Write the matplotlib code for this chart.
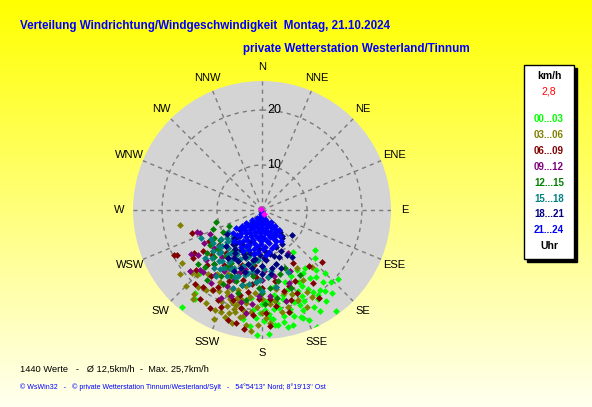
import numpy as np
import matplotlib.pyplot as plt
from matplotlib.patches import Rectangle

plt.rcParams['font.family'] = ['Liberation Sans', 'DejaVu Sans']

W, H = 592, 407

directions = ['N', 'NNE', 'NE', 'ENE', 'E', 'ESE', 'SE', 'SSE',
              'S', 'SSW', 'SW', 'WSW', 'W', 'WNW', 'NW', 'NNW']
rings = [10, 20]
r_min, r_max = 1.8, 25.3

hours = ['00...03', '03...06', '06...09', '09...12',
         '12...15', '15...18', '18...21', '21...24']
colors = ['#00ff00', '#808000', '#800000', '#800080',
          '#008000', '#008080', '#000080', '#0000ff']

# (direction deg, speed km/h), one list per 3 hours
pts_00 = [(219.5, 24.7), (127, 13.9), (132, 14.8), (132, 20.5), (144, 24.6), (155, 25.3),
          (159, 22.8), (167.5, 23.6), (173.5, 22.9), (182.3, 24.6), (143.6, 11.3), (224.5, 17.9),
          (219, 21.2), (217, 22), (144, 19.8), (142, 20.5), (141, 17.5), (143.4, 14.9),
          (146.6, 20.3), (164.6, 21.1), (175.8, 21.5), (160, 18), (165, 19), (170, 20),
          (175, 18.5), (158, 20.5), (168, 21.5), (178, 20), (162, 17), (172, 17.5), (155, 19),
          (180, 19), (163, 22), (150, 18.5), (185, 20), (153, 16.5), (145, 17), (148, 21),
          (172, 23), (187, 18), (157, 23.5), (140, 19), (135, 18), (190, 22), (150, 23),
          (177, 24.5), (152, 17.5), (156, 18), (161, 19.5), (166, 17.8), (171, 19),
          (176, 20.8), (181, 20.5), (158, 21.5), (164, 20.5), (169, 22.5), (174, 21.8),
          (179, 22), (155, 20), (160, 22.5), (167, 18.5), (173, 20), (148, 19.5), (152, 21.8),
          (145, 22), (138, 16.5), (147, 15.5), (150, 14.5), (183, 21.5), (186, 23), (165, 23.5),
          (178, 18.3), (171, 16), (156, 15), (162, 15.5), (140, 21.5), (136, 20)]
pts_03 = [(259.6, 17), (236.5, 19.3), (232, 20.7), (225, 21.4), (219, 21.5), (218, 22.3),
          (202, 21.9), (195, 23.1), (191.6, 21.7), (182, 22.7), (149.6, 16.6), (151, 18.8),
          (202, 18.5), (193, 18.5), (198, 19.5), (200, 20.5), (195, 21), (190, 19), (203, 18),
          (197, 17), (149, 14.1), (139, 15.6), (169, 20.7), (175, 19), (165, 20), (185, 17),
          (210, 17), (215, 19.5), (205, 22), (188, 23), (178, 21.5), (160, 18), (170, 16.5),
          (208, 15), (220, 17), (228, 19), (199, 22.5), (186, 20.5), (192, 16), (155, 21.3),
          (180, 18), (190, 20.5), (196, 18.5), (204, 20), (212, 19), (183, 19.5), (172, 18.5),
          (165, 17.5), (176, 22.5), (185, 24), (204, 23.5), (211, 21.5), (220, 20),
          (195, 19.8), (201, 17.2), (188, 17.8), (180, 20.5), (158, 19.5), (150, 20),
          (208, 18.5), (215, 16), (225, 18.5), (192, 20), (196, 20.5), (194, 19), (198, 21.5),
          (190, 21.5), (200, 19)]
pts_06 = [(252, 15.2), (242, 19.3), (235, 17.1), (235, 14.9), (231, 11.9), (131, 16.3),
          (147, 20.9), (188.5, 23.8), (197, 22.7), (211.5, 18.9), (217.5, 19.5), (206, 20),
          (157, 18.2), (194.5, 17.8), (160.5, 16.4), (185, 14), (195, 15), (205, 16), (215, 14),
          (225, 16), (200, 12.5), (190, 17), (210, 18), (180, 16), (220, 12), (230, 13.5),
          (175, 18), (198, 19), (170, 15), (188, 12), (212, 11), (165, 17), (203, 21),
          (243, 19.8), (228, 14), (178, 20.5), (150, 13), (140, 15), (182, 18), (192, 20),
          (208, 22), (218, 17), (228, 18), (238, 16.5), (185, 21), (196, 13.5), (172, 19.5),
          (162, 19), (155, 16), (176, 23), (188, 15.5), (215, 21.5), (200, 14), (222, 20),
          (165, 21), (145, 18), (193, 23), (240, 13)]
pts_09 = [(251, 14.3), (245, 12.2), (189, 20.8), (224, 17.4), (209, 13.7), (149, 10.9),
          (190, 12), (200, 14), (212, 15), (220, 13), (228, 15.5), (235, 16), (195, 16),
          (205, 17), (215, 18), (185, 15), (178, 13), (198, 11), (210, 11.5), (222, 11),
          (240, 14), (230, 19), (193, 19), (182, 17.5), (170, 16), (165, 19), (155, 14),
          (250, 13.8), (188, 13.5), (202, 15.5), (216, 16.5), (226, 17.5), (238, 17),
          (196, 13), (210, 14), (180, 14.5), (175, 17.5), (186, 19), (200, 18.5), (222, 15),
          (232, 13), (170, 14), (160, 16), (205, 19.5), (214, 12.5)]
pts_12 = [(255, 10.5), (249, 11.4), (241, 10), (236, 13.2), (234, 11.2), (158, 13.1),
          (167, 15.1), (190, 12), (200, 13), (212, 14), (222, 15), (228, 12.5), (195, 16),
          (208, 17), (218, 18), (185, 15), (180, 17), (175, 14), (200, 10), (215, 11),
          (225, 16.5), (170, 18), (205, 15), (190, 18.5), (160, 17), (150, 15.5), (232, 14.5),
          (245, 8.5), (195, 12), (205, 12), (218, 12.5), (188, 14), (200, 15.5), (212, 16),
          (226, 14), (182, 16), (196, 17.5), (178, 19), (230, 17), (240, 12), (210, 13),
          (186, 11), (164, 14), (174, 16)]
pts_15 = [(223, 5.3), (237, 9.2), (230, 15.4), (200, 9), (215, 9), (228, 9), (190, 10),
          (205, 10), (218, 10), (232, 10), (185, 11), (198, 11), (210, 11), (222, 11),
          (235, 11), (180, 12), (193, 12), (206, 12), (218, 12), (230, 12), (188, 13),
          (200, 13), (212, 13), (225, 13), (175, 14), (195, 14), (208, 14), (220, 14),
          (185, 15), (202, 15), (215, 15), (170, 16), (195, 16), (157, 14), (165, 12),
          (240, 12.5), (245, 14), (203, 9.5), (225, 9.5), (196, 10.5), (212, 10.5),
          (228, 10.5), (190, 11.5), (204, 11.5), (216, 11.5), (228, 11.5), (199, 12.5),
          (212, 12.5), (224, 12.5), (236, 12.5), (193, 13.5), (206, 13.5), (218, 13.5),
          (230, 13.5), (182, 14.5), (200, 14.5), (213, 14.5), (226, 14.5), (190, 15.5),
          (208, 15.5), (220, 15.5), (180, 16.5), (200, 17), (215, 16.5), (178, 12.5), (172, 13)]
pts_18 = [(140, 7), (230, 7.2), (145, 8), (143, 7.8), (200, 8), (150, 9), (160, 9), (185, 9),
          (210, 9), (225, 9), (155, 10), (170, 10), (182, 10), (195, 10), (208, 10), (220, 10),
          (160, 11), (175, 11), (190, 11), (200, 11), (212, 11), (151, 11.2), (165, 12),
          (180, 12), (195, 12), (205, 12), (185, 13), (200, 13), (172, 13.5), (215, 12.5),
          (235, 9.5), (130, 9), (226, 6.6), (222, 8.5), (165, 10.5), (178, 10.5), (188, 10.8),
          (202, 10.5), (215, 10.5), (170, 12.5), (190, 12.5), (210, 12), (180, 13.5),
          (195, 13.5), (162, 13), (205, 14), (225, 11), (148, 12), (175, 9.5), (218, 9.5)]
pts_21 = [(180, 2.2), (170, 3), (185, 3), (195, 3.2), (160, 4), (175, 4), (190, 4), (205, 4.2),
          (150, 5), (165, 5), (180, 5), (195, 5), (210, 5), (220, 5.3), (145, 6), (160, 6),
          (172, 6), (185, 6), (198, 6), (212, 6), (225, 6.2), (150, 7), (163, 7), (176, 7),
          (189, 7), (202, 7), (215, 7), (228, 7), (155, 8), (168, 8), (181, 8), (194, 8),
          (207, 8), (220, 8), (225, 8.3), (165, 9), (178, 9), (191, 9), (204, 9), (215, 9),
          (175, 10), (190, 10), (205, 10), (170, 7.5), (183, 6.5), (196, 7.5), (208, 6.5),
          (158, 6.8), (188, 5.5), (200, 8.5), (176, 8.5), (175, 2.5), (190, 2.5), (160, 3.5),
          (178, 3.5), (200, 3.5), (210, 3.5), (145, 4.5), (155, 4.5), (168, 4.5), (182, 4.5),
          (198, 4.5), (215, 4.5), (225, 4.5), (140, 5.5), (152, 5.5), (170, 5.5), (176, 5.5),
          (205, 5.5), (218, 5.5), (230, 5.5), (140, 6.5), (150, 6.5), (165, 6.5), (195, 6.5),
          (220, 6.5), (232, 6.5), (145, 7.5), (158, 7.5), (182, 7.5), (210, 7.5), (222, 7.5),
          (235, 7.5), (148, 8.5), (160, 8.5), (188, 8.5), (212, 8.5), (232, 8.5), (170, 9.5),
          (185, 9.5), (198, 9.5), (210, 9.5), (222, 9.5)]
pts_now = [(315, 2.0), (153, 2.6)]
groups = [pts_00, pts_03, pts_06, pts_09, pts_12, pts_15, pts_18, pts_21]

current = '2,8'
summary = '1440 Werte   -   \u00d8 12,5km/h  -  Max. 25,7km/h'
footer = ('\u00a9 WsWin32   -   \u00a9 private Wetterstation Tinnum/Westerland/Sylt   -   '
          '54\u00b054\'13\'\' Nord; 8\u00b019\'13\'\' Ost')

fig = plt.figure(figsize=(W / 100, H / 100), dpi=100)

# yellow background fading downwards
bg = fig.add_axes([0, 0, 1, 1])
grad = np.ones((H, 1, 3))
grad[:, 0, 2] = np.linspace(0, 0.94, H)
bg.imshow(grad, aspect='auto', extent=[0, 1, 0, 1])
bg.axis('off')

ax = fig.add_axes([133 / W, 68 / H, 258 / W, 258 / H], projection='polar')
ax.set_facecolor('#d4d4d4')
ax.set_theta_zero_location('N')
ax.set_theta_direction(-1)
ax.set_ylim(r_min, r_max)
ax.set_xticks(np.deg2rad(np.arange(0, 360, 22.5)))
ax.set_xticklabels([])
ax.set_yticks(rings)
ax.set_yticklabels([])
ax.tick_params(length=0)
ax.grid(True, color='#7a7a7a', linestyle=(0, (3, 3)), linewidth=1)
ax.spines['polar'].set_visible(False)

for i, name in enumerate(directions):
    ax.text(np.deg2rad(i * 22.5), 27.85, name, ha='center', va='center',
            fontsize=8, clip_on=False)
for r in rings:
    ax.annotate(str(r), xy=(0, r), xytext=(4, 0), textcoords='offset points',
                ha='left', va='center', fontsize=9)

for pts, c in zip(groups, colors):
    d, s = zip(*pts)
    ax.scatter(np.deg2rad(d), s, marker='D', s=12, c=c, linewidths=0, zorder=3)
d, s = zip(*pts_now)
ax.scatter(np.deg2rad(d), s, marker='D', s=12, c='#ff00ff', linewidths=0, zorder=4)

fig.text(20 / W, 1 - 26 / H, 'Verteilung Windrichtung/Windgeschwindigkeit  Montag, 21.10.2024',
         color='#0000ff', fontsize=8.4, weight='bold', va='center')
fig.text(243 / W, 1 - 49 / H, 'private Wetterstation Westerland/Tinnum',
         color='#0000ff', fontsize=8.4, weight='bold', va='center')

# legend box with shadow
fig.patches.append(Rectangle((527 / W, 1 - 262 / H), 50 / W, 194 / H,
                             transform=fig.transFigure, color='black'))
fig.patches.append(Rectangle((524 / W, 1 - 259 / H), 50 / W, 194 / H,
                             transform=fig.transFigure, facecolor='white',
                             edgecolor='black', linewidth=1))
fig.text(549 / W, 1 - 76 / H, 'km/h', ha='center', va='center', fontsize=7.5, weight='bold')
fig.text(549 / W, 1 - 92 / H, current, ha='center', va='center', fontsize=7.5, color='red')
for i, (lab, c) in enumerate(zip(hours, colors)):
    fig.text(549 / W, 1 - (119.5 + i * 15.8) / H, lab, ha='center', va='center',
             fontsize=7, weight='bold', color=c)
fig.text(549 / W, 1 - 246 / H, 'Uhr', ha='center', va='center', fontsize=7.5, weight='bold')

fig.text(20 / W, 1 - 369 / H, summary, va='center', fontsize=6.7)
fig.text(20 / W, 1 - 387 / H, footer, va='center', fontsize=5, color='#0000ff')

fig.savefig('out.png', dpi=100)
